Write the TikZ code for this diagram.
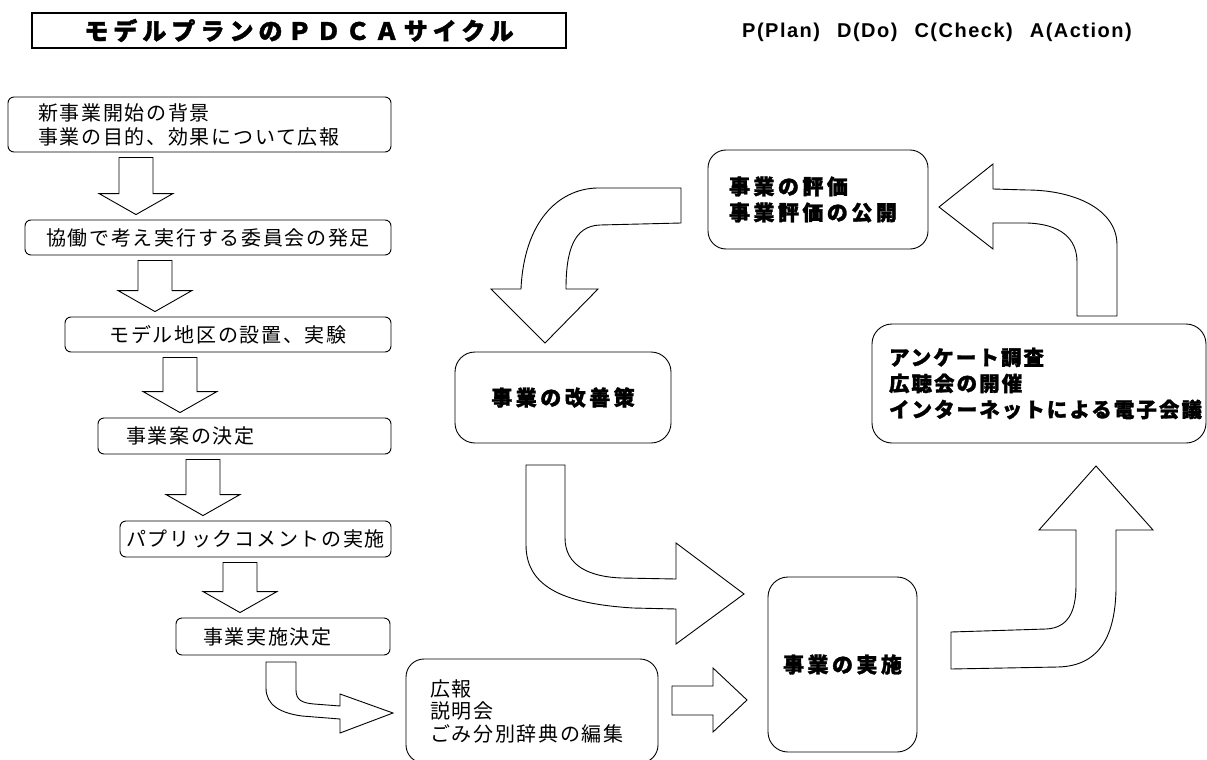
\documentclass[tikz,border=0pt]{standalone}
\usepackage{fontspec}
\usetikzlibrary{calc}
\newfontfamily\jpfont{Noto Sans CJK JP}[LetterSpace=8.5]
\newfontfamily\jpboldfont{Noto Sans CJK JP}[LetterSpace=16.5, BoldFeatures={FakeBold=1.5}]
\newfontfamily\jpmidfont{Noto Sans CJK JP}[LetterSpace=10, BoldFeatures={FakeBold=1.5}]
\newfontfamily\jptitlefont{Noto Sans CJK JP}[LetterSpace=21, BoldFeatures={FakeBold=1.5}]
\newfontfamily\latinfont{Liberation Sans}[LetterSpace=7.5]
\newcommand{\jpnormal}{\jpfont\fontsize{20pt}{24pt}\selectfont}
\newcommand{\jpbig}{\jpboldfont\bfseries\fontsize{21pt}{26pt}\selectfont}
\newcommand{\jpmid}{\jpmidfont\bfseries\fontsize{20.5pt}{26pt}\selectfont}
\newcommand{\jptitle}{\jptitlefont\bfseries\fontsize{24pt}{26pt}\selectfont}
\newcommand{\pdcafont}{\latinfont\bfseries\fontsize{20pt}{24pt}\selectfont}
\tikzset{
  box/.style={draw, line width=0.9pt, rounded corners=6pt, inner sep=0pt, font=\jpnormal},
  barrow/.style={draw, fill=white, line width=0.9pt, line join=miter},
}
\begin{document}
\begin{tikzpicture}[x=1pt, y=-1pt, line cap=round]
\useasboundingbox (0,0) rectangle (1207,760);
%見出し
\node[draw, line width=2.4pt, minimum width=534pt, minimum height=35pt, inner sep=0pt, font=\jptitle] (title) at (299,30.5) {モデルプランのＰＤＣＡサイクル};
\node[anchor=base west, inner sep=0pt, font=\pdcafont] (legend) at (742,38) {P(Plan)\hspace{17pt}D(Do)\hspace{17pt}C(Check)\hspace{17pt}A(Action)};
% 左の列
\node[box, text width=323pt, inner xsep=30pt, minimum height=55pt, align=left] (b1) at (199.5,124.5) {新事業開始の背景\\事業の目的、効果について広報};
\node[box, minimum width=366pt, minimum height=35pt] (b2) at (208,237.5) {協働で考え実行する委員会の発足};
\node[box, minimum width=326pt, minimum height=35pt] (b3) at (228,334.5) {モデル地区の設置、実験};
\node[box, text width=237pt, inner xsep=28pt, minimum height=36pt, align=left] (b4) at (244.5,436) {事業案の決定};
\node[box, minimum width=271pt, minimum height=36pt] (b5) at (255.5,539) {パプリックコメントの実施};
\node[box, text width=160pt, inner xsep=27pt, minimum height=37pt, align=left] (b6) at (283,636.5) {事業実施決定};
\node[box, rounded corners=18pt, text width=204pt, inner xsep=24pt, minimum height=104pt, align=left, font={\jpnormal\fontsize{20pt}{22.5pt}\selectfont}] (koho) at (532,711) {広報\\説明会\\ごみ分別辞典の編集};
% サイクル
\node[box, rounded corners=18pt, text width=178pt, inner xsep=21pt, minimum height=99pt, align=left, font=\jpbig] (hyoka) at (818,199.5) {事業の評価\\事業評価の公開};
\node[box, rounded corners=20pt, minimum width=216pt, minimum height=91pt, font=\jpbig] (kaizen) at (563,397.5) {事業の改善策};
\node[box, rounded corners=20pt, minimum width=149pt, minimum height=175pt, font=\jpbig] (jisshi) at (842.5,664.5) {事業の実施};
\node[box, rounded corners=20pt, text width=300pt, inner xsep=17pt, minimum height=119pt, align=left, font=\jpmid] (chosa) at (1039,383.5) {アンケート調査\\広聴会の開催\\インターネットによる電子会議};
% 下向きの矢印
\foreach \a/\b/\cx in {b1/b2/136, b2/b3/155, b3/b4/180, b4/b5/203, b5/b6/240}
  \draw[barrow] let \p1=(\a.south), \p2=(\b.north) in
    ({\cx pt-17pt},{\y1-5pt}) -- ({\cx pt-17pt},{\y2+26pt}) -- ({\cx pt-37pt},{\y2+26pt})
    -- ({\cx pt},{\y2+5pt}) -- ({\cx pt+37pt},{\y2+26pt}) -- ({\cx pt+17pt},{\y2+26pt})
    -- ({\cx pt+17pt},{\y1-5pt}) -- cycle;
% 曲がった矢印
\draw[barrow] (266,662) -- (296,662) -- (296,690) .. controls (296,700) and (302,703) .. (314,704) -- (340,706) -- (340,694) -- (393,713) -- (340,733) -- (340,719) -- (302,716) .. controls (280,713) and (266,705) .. (266,688) -- cycle;
\draw[barrow] (672,686) -- (713,686) -- (713,668) -- (747,700) -- (713,732) -- (713,715) -- (672,715) -- cycle;
\draw[barrow] (526,465) -- (565,465) -- (565,538) .. controls (565,566) and (590,577) .. (622,578) -- (676,579) -- (676,543) -- (744,594) -- (676,644) -- (676,609) -- (633,608) .. controls (570,604) and (526,590) .. (526,545) -- cycle;
\draw[barrow] (951,632) -- (1046,629) .. controls (1068,628) and (1076,612) .. (1076,585) -- (1076,530) -- (1039,530) -- (1096,466) -- (1153,530) -- (1116,530) -- (1116,590) .. controls (1115,632) and (1102,666) .. (1058,667) -- (951,669) -- cycle;
\draw[barrow] (681,188) -- (597,188) .. controls (558,189) and (524,222) .. (521,289) -- (491,289) -- (545,343) -- (598,289) -- (566,289) .. controls (566,250) and (574,226) .. (600,225) -- (681,223) -- cycle;
\draw[barrow] (1117,316) -- (1117,245) .. controls (1117,208) and (1072,190) .. (1027,190) -- (993,189) -- (993,164) -- (939,207) -- (993,249) -- (993,223) -- (1027,223) .. controls (1060,224) and (1077,238) .. (1077,262) -- (1077,316) -- cycle;
\end{tikzpicture}
\end{document}
